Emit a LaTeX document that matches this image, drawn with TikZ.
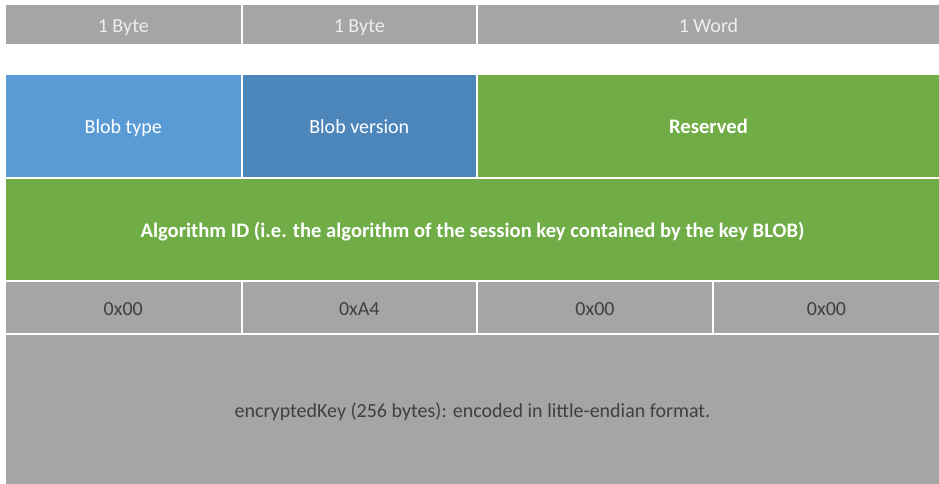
\documentclass[tikz,border=0pt]{standalone}
\usepackage{fontspec}
\setmainfont{Carlito}
\definecolor{cgray}{HTML}{A5A5A5}
\definecolor{cblue}{HTML}{5B9BD5}
\definecolor{cblued}{HTML}{4D86BB}
\definecolor{cgreen}{HTML}{70AD47}
\definecolor{ctextd}{HTML}{404040}
\definecolor{ctextl}{HTML}{EEEEEE}
\begin{document}
\begin{tikzpicture}[x=1pt,y=-1pt,
  cell/.style={anchor=north west,inner sep=0pt,outer sep=0pt,draw=none,
    text height=18pt,text depth=2pt,
    font=\fontsize{20}{24}\selectfont},
  hdr/.style={cell,fill=cgray,text=ctextl},
  val/.style={cell,fill=cgray,text=ctextd},
  bluea/.style={cell,fill=cblue,text=white},
  blueb/.style={cell,fill=cblued,text=white},
  grn/.style={cell,fill=cgreen,text=white,font=\fontsize{20.6}{24}\selectfont\bfseries}]
\useasboundingbox (0,0) rectangle (939,484);
% header row
\node[hdr,minimum width=234.5pt,minimum height=39pt] (h1) at (6,5) {1 Byte};
\node[hdr,minimum width=233.5pt,minimum height=39pt] (h2) at (242.5,5) {1 Byte};
\node[hdr,minimum width=461pt,minimum height=39pt] (h3) at (478,5) {1 Word};
% first field row
\node[bluea,minimum width=234.5pt,minimum height=102pt] (bt) at (6,75) {Blob type};
\node[blueb,minimum width=233.5pt,minimum height=102pt] (bv) at (242.5,75) {Blob version};
\node[grn,minimum width=461pt,minimum height=102pt] (rs) at (478,75) {Reserved};
% algorithm id
\node[grn,minimum width=933pt,minimum height=101pt] (alg) at (6,179) {Algorithm ID (i.e. the algorithm of the session key contained by the key BLOB)};
% hex values
\node[val,minimum width=234.5pt,minimum height=51pt] (v1) at (6,282) {0x00};
\node[val,minimum width=233.5pt,minimum height=51pt] (v2) at (242.5,282) {0xA4};
\node[val,minimum width=234pt,minimum height=51pt] (v3) at (478,282) {0x00};
\node[val,minimum width=225pt,minimum height=51pt] (v4) at (714,282) {0x00};
% encrypted key
\node[val,minimum width=933pt,minimum height=149pt] (ek) at (6,335) {encryptedKey (256 bytes): encoded in little-endian format.};
\end{tikzpicture}
\end{document}
